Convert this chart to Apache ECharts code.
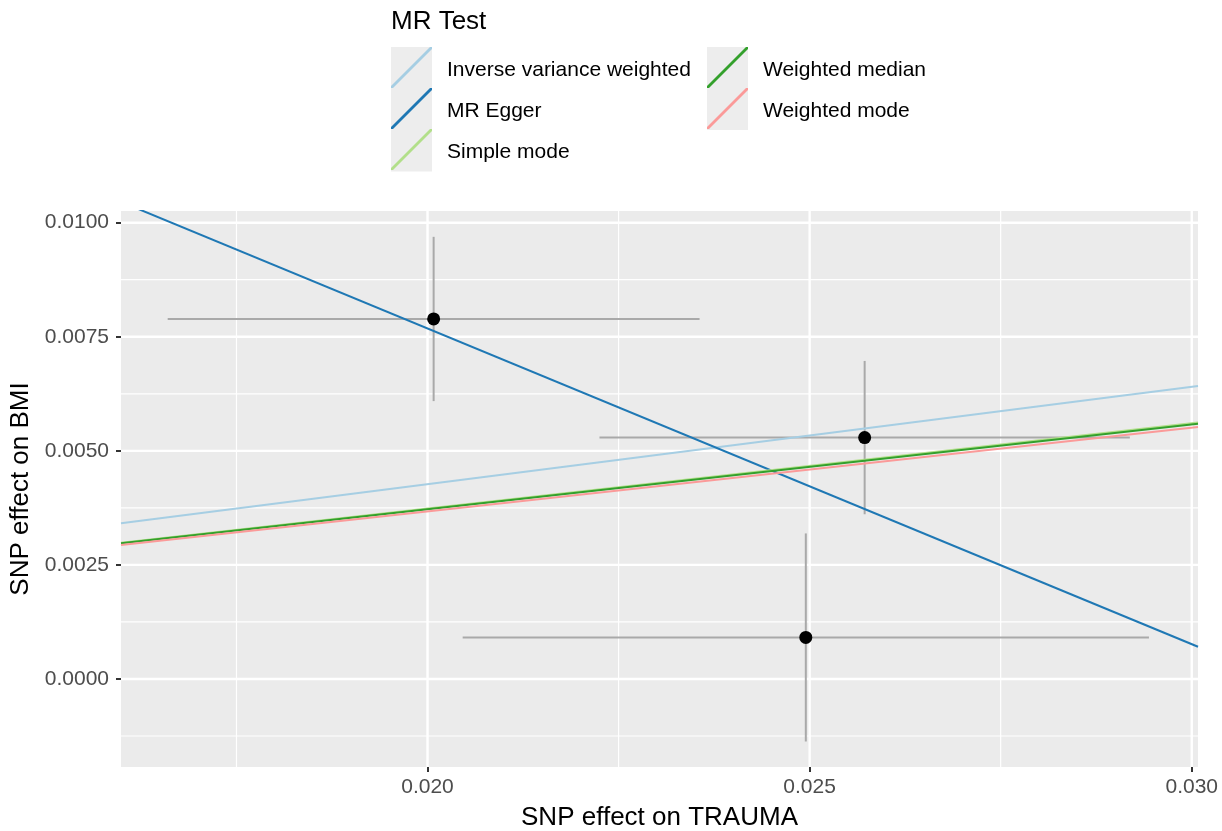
<!DOCTYPE html>
<html>
<head>
<meta charset="utf-8">
<script src="https://cdn.jsdelivr.net/npm/echarts@6/dist/echarts.min.js"></script>
<style>html,body{margin:0;padding:0;background:#fff}#c{width:1222px;height:831px}</style>
</head>
<body>
<div id="c"></div>
<script>
// ---- data ----
const snpX = [0.02008, 0.02572, 0.02495];      // SNP effect on TRAUMA
const snpY = [0.00789, 0.00529, 0.00091];      // SNP effect on BMI
const seX = [0.00348, 0.00347, 0.00449];
const seY = [0.00180, 0.00168, 0.00228];

const methods = ['Inverse variance weighted', 'MR Egger', 'Simple mode', 'Weighted median', 'Weighted mode'];
const slopes = [0.2135, -0.6918, 0.1868, 0.1860, 0.1836];
const intercepts = [0, 0.021518, 0, 0, 0];
const colors = ['#A6CEE3', '#1F78B4', '#B2DF8A', '#33A02C', '#FB9A99'];

const xMajor = [0.020, 0.025, 0.030];
const xMinor = [0.0175, 0.0225, 0.0275];
const yMajor = [0.0000, 0.0025, 0.0050, 0.0075, 0.0100];
const yMinor = [-0.00125, 0.00125, 0.00375, 0.00625, 0.00875];

const xMin = 0.015989, xMax = 0.030082;
const yMin = -0.001929, yMax = 0.010256;

// ---- chart ----
const FONT = '"Liberation Sans", Arial, Helvetica, sans-serif';
const chart = echarts.init(document.getElementById('c'), null, {renderer: 'canvas'});

function gridSeries(vals, vertical, width) {
  return {
    type: 'custom', silent: true, z: 1,
    data: vals.map(v => vertical ? [v, yMin] : [xMin, v]),
    renderItem: function (params, api) {
      let p1, p2;
      if (vertical) { p1 = api.coord([api.value(0), yMin]); p2 = api.coord([api.value(0), yMax]); }
      else { p1 = api.coord([xMin, api.value(1)]); p2 = api.coord([xMax, api.value(1)]); }
      return {type: 'line', shape: {x1: p1[0], y1: p1[1], x2: p2[0], y2: p2[1]},
              style: {stroke: '#FFFFFF', lineWidth: width}};
    }
  };
}

const errData = snpX.map((x, i) => [x, snpY[i], x - seX[i], x + seX[i], snpY[i] - seY[i], snpY[i] + seY[i]]);

const lineSeries = methods.map((m, i) => ({
  name: m, type: 'line', showSymbol: false, symbol: 'none', z: 5,
  color: colors[i],
  lineStyle: {color: colors[i], width: 2},
  data: [[xMin, intercepts[i] + slopes[i] * xMin], [xMax, intercepts[i] + slopes[i] * xMax]]
}));

const ICON = 'path://M0,39 L39,0 L41,0 L41,2 L2,41 L0,41 Z';
const legendCommon = {
  orient: 'vertical', itemWidth: 41, itemHeight: 41.5, itemGap: 0, padding: 0,
  icon: ICON, selectedMode: false,
  itemStyle: {borderWidth: 0},
  formatter: name => '{t|' + name + '}',
  textStyle: {fontFamily: FONT, fontSize: 21, color: '#000',
              rich: {t: {fontFamily: FONT, fontSize: 21, color: '#000', padding: [6, 0, 0, 10]}}}
};

chart.setOption({
  animation: false,
  backgroundColor: '#FFFFFF',
  title: {text: 'MR Test', left: 391, top: 9, padding: 0,
          textStyle: {fontFamily: FONT, fontSize: 26, fontWeight: 'normal', color: '#000'}},
  legend: [
    Object.assign({}, legendCommon, {left: 391, top: 47, data: methods.slice(0, 3)}),
    Object.assign({}, legendCommon, {left: 707, top: 47, data: methods.slice(3)})
  ],
  graphic: [
    {type: 'rect', left: 391, top: 47, z: -1, shape: {width: 41, height: 124.5}, style: {fill: '#EDEDED'}},
    {type: 'rect', left: 707, top: 47, z: -1, shape: {width: 41, height: 83}, style: {fill: '#EDEDED'}}
  ],
  grid: {left: 121, top: 211, width: 1077, height: 556, show: true, outerBoundsMode: 'none',
         backgroundColor: '#EBEBEB', borderWidth: 0, containLabel: false},
  xAxis: {
    type: 'value', min: xMin, max: xMax,
    name: 'SNP effect on TRAUMA', nameLocation: 'middle', nameGap: 38,
    nameTextStyle: {fontFamily: FONT, fontSize: 26, color: '#000'},
    axisLine: {show: false, onZero: false}, splitLine: {show: false},
    axisTick: {show: true, customValues: xMajor, length: 5, lineStyle: {color: '#333', width: 2}},
    axisLabel: {customValues: xMajor, formatter: v => v.toFixed(3), fontFamily: FONT,
                fontSize: 21, color: '#4D4D4D', margin: 10}
  },
  yAxis: {
    type: 'value', min: yMin, max: yMax,
    name: 'SNP effect on BMI', nameLocation: 'middle', nameGap: 77,
    nameTextStyle: {fontFamily: FONT, fontSize: 26, color: '#000'},
    axisLine: {show: false, onZero: false}, splitLine: {show: false},
    axisTick: {show: true, customValues: yMajor, length: 5, lineStyle: {color: '#333', width: 2}},
    axisLabel: {customValues: yMajor, formatter: v => v.toFixed(4), fontFamily: FONT,
                fontSize: 21, color: '#4D4D4D', margin: 12}
  },
  series: [
    gridSeries(xMinor, true, 1.2),
    gridSeries(yMinor, false, 1.2),
    gridSeries(xMajor, true, 2.4),
    gridSeries(yMajor, false, 2.4),
    {
      type: 'custom', silent: true, z: 2,
      data: errData,
      renderItem: function (params, api) {
        const a = api.coord([api.value(2), api.value(1)]);
        const b = api.coord([api.value(3), api.value(1)]);
        const c = api.coord([api.value(0), api.value(4)]);
        const d = api.coord([api.value(0), api.value(5)]);
        return {type: 'group', children: [
          {type: 'line', shape: {x1: a[0], y1: a[1], x2: b[0], y2: b[1]}, style: {stroke: '#A9A9A9', lineWidth: 2}},
          {type: 'line', shape: {x1: c[0], y1: c[1], x2: d[0], y2: d[1]}, style: {stroke: '#A9A9A9', lineWidth: 2}}
        ]};
      }
    },
    {
      type: 'scatter', z: 3, symbolSize: 13, itemStyle: {color: '#000', opacity: 1},
      data: snpX.map((x, i) => [x, snpY[i]])
    }
  ].concat(lineSeries)
});
</script>
</body>
</html>
